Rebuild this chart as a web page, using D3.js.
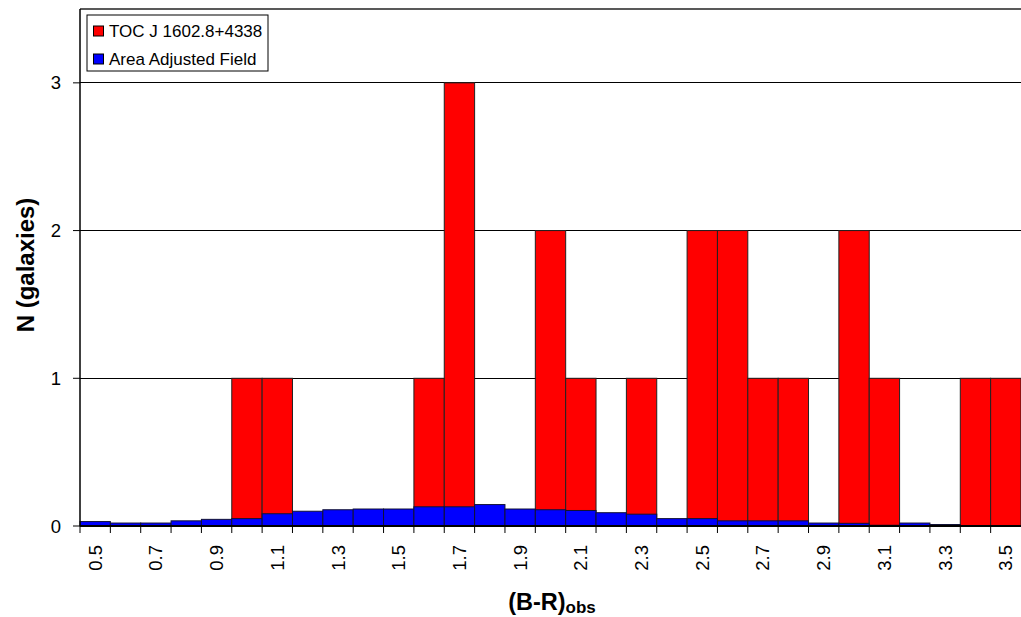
<!DOCTYPE html>
<html><head><meta charset="utf-8">
<script src="https://cdn.jsdelivr.net/npm/d3@7"></script>
<style>body{margin:0;background:#fff;} svg{display:block;font-family:"Liberation Sans",Arial,sans-serif;}</style>
</head><body>
<svg id="chart" width="1021" height="617"></svg>
<script>
const categories = ["0.5","0.6","0.7","0.8","0.9","1.0","1.1","1.2","1.3","1.4","1.5","1.6","1.7","1.8","1.9","2.0","2.1","2.2","2.3","2.4","2.5","2.6","2.7","2.8","2.9","3.0","3.1","3.2","3.3","3.4","3.5"];
const clusterValues = [0,0,0,0,0,1,1,0,0,0,0,1,3,0,0,2,1,0,1,0,2,2,1,1,0,2,1,0,0,1,1];
const fieldValues = [0.03,0.02,0.02,0.035,0.045,0.05,0.083,0.10,0.11,0.115,0.115,0.13,0.13,0.145,0.115,0.11,0.105,0.09,0.08,0.05,0.05,0.035,0.035,0.035,0.02,0.018,0.005,0.02,0.01,0,0];
const xTickLabels = ["0.5","0.7","0.9","1.1","1.3","1.5","1.7","1.9","2.1","2.3","2.5","2.7","2.9","3.1","3.3","3.5"];
const yTicks = [0,1,2,3];
const seriesNames = ["TOC J 1602.8+4338","Area Adjusted Field"];
const seriesColors = ["#ff0000","#0000ff"];

const svg = d3.select("#chart");
const L = 80, R = 1021, T = 9, B = 526;
const x = d3.scaleBand().domain(categories).range([L, R]).padding(0);
const y = d3.scaleLinear().domain([0, 3.5]).range([B, T]);

// gridlines
svg.append("g").selectAll("line").data(yTicks.filter(d => d > 0)).join("line")
  .attr("x1", L).attr("x2", R).attr("y1", d => y(d)).attr("y2", d => y(d))
  .attr("stroke", "#000").attr("stroke-width", 1).attr("shape-rendering", "crispEdges");
// top border
svg.append("line").attr("x1", L).attr("x2", R).attr("y1", T).attr("y2", T)
  .attr("stroke", "#222").attr("stroke-width", 1.5);

// red bars
svg.append("g").selectAll("rect").data(categories).join("rect")
  .attr("x", d => x(d)).attr("width", x.bandwidth())
  .attr("y", (d, i) => y(clusterValues[i])).attr("height", (d, i) => y(0) - y(clusterValues[i]))
  .attr("fill", seriesColors[0]).attr("stroke", "#222").attr("stroke-width", 1);
// blue bars
svg.append("g").selectAll("rect").data(categories).join("rect")
  .attr("x", d => x(d)).attr("width", x.bandwidth())
  .attr("y", (d, i) => y(fieldValues[i])).attr("height", (d, i) => y(0) - y(fieldValues[i]))
  .attr("fill", seriesColors[1]).attr("stroke", "#111133").attr("stroke-width", 1);

// x axis
const xAxis = svg.append("g").attr("transform", `translate(0,${B})`);
xAxis.append("line").attr("x1", L).attr("x2", R).attr("stroke", "#000").attr("stroke-width", 2);
const bounds = categories.map(c => x(c));
xAxis.selectAll("line.tk").data(bounds).join("line").attr("class", "tk")
  .attr("x1", d => d).attr("x2", d => d).attr("y1", 0).attr("y2", 7)
  .attr("stroke", "#000").attr("stroke-width", 1);
xAxis.selectAll("text").data(xTickLabels).join("text")
  .attr("transform", d => `translate(${x(d) + x.bandwidth()/2 + 6.5},19) rotate(-90)`)
  .attr("text-anchor", "end").attr("font-size", 18.5).attr("fill", "#000").text(d => d);

// y axis
svg.append("line").attr("x1", L).attr("x2", L).attr("y1", T).attr("y2", B)
  .attr("stroke", "#000").attr("stroke-width", 1.5);
const yAxis = svg.append("g");
yAxis.selectAll("line").data(yTicks).join("line")
  .attr("x1", L - 7).attr("x2", L).attr("y1", d => y(d)).attr("y2", d => y(d))
  .attr("stroke", "#000").attr("stroke-width", 1);
yAxis.selectAll("text").data(yTicks).join("text")
  .attr("x", 61).attr("y", d => y(d) + 6.5).attr("text-anchor", "end")
  .attr("font-size", 18.5).text(d => d);

// titles
svg.append("text").attr("transform", "translate(34,265) rotate(-90)")
  .attr("text-anchor", "middle").attr("font-size", 24).attr("font-weight", "bold").text("N (galaxies)");
const xt = svg.append("text").attr("x", 552).attr("y", 610).attr("text-anchor", "middle")
  .attr("font-size", 23.5).attr("font-weight", "bold");
xt.append("tspan").text("(B-R)");
xt.append("tspan").attr("font-size", 17).attr("dy", 3).text("obs");

// legend
const lg = svg.append("g");
lg.append("rect").attr("x", 87).attr("y", 15).attr("width", 181).attr("height", 56)
  .attr("fill", "#fff").attr("stroke", "#000").attr("stroke-width", 1);
seriesNames.forEach((n, i) => {
  const cy = 31 + i * 28;
  lg.append("rect").attr("x", 93.5).attr("y", cy - 5).attr("width", 10).attr("height", 10)
    .attr("fill", seriesColors[i]).attr("stroke", "#000").attr("stroke-width", 1);
  lg.append("text").attr("x", 109).attr("y", cy + 6).attr("font-size", 17).text(n);
});
</script>
</body></html>
